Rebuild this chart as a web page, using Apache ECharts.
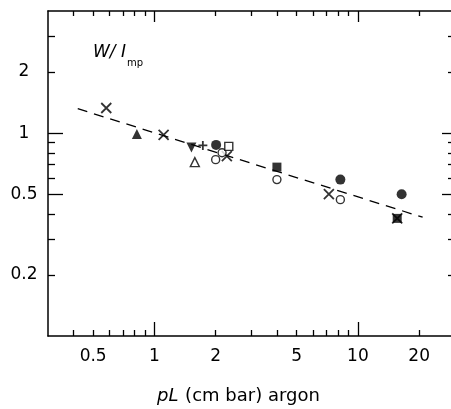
<!DOCTYPE html>
<html><head><meta charset="utf-8">
<script src="https://cdn.jsdelivr.net/npm/echarts@6/dist/echarts.min.js"></script>
<style>html,body{margin:0;background:#fff}#c{width:451px;height:409px}</style>
</head><body><div id="c"></div><script>
const xMinorTicks=[0.4,0.5,0.6,0.7,0.8,0.9,2,3,4,5,6,7,8,9,20];
const xMajorTicks=[1,10];
const xTickLabels=[0.5,1,2,5,10,20];
const yMinorTicks=[0.2,0.3,0.4,0.6,0.7,0.8,0.9,2,3];
const yMajorTicks=[0.5,1];
const yTickLabels=[0.2,0.5,1,2];
const fitLine=[[0.42,1.32],[20.8,0.385]];
const crossPts=[[0.58,1.33],[1.11,0.98],[2.27,0.77],[7.2,0.50],[15.6,0.38]];
const triUpFilled=[[0.82,0.99]];
const triUpOpen=[[1.58,0.72]];
const triDownFilled=[[1.52,0.85]];
const plusPts=[[1.73,0.87]];
const dotFilled=[[2.01,0.875],[8.2,0.59],[16.4,0.50]];
const dotOpen=[[2.0,0.74],[2.15,0.80],[4.0,0.59],[8.2,0.47]];
const squareOpen=[[2.32,0.86]];
const squareFilled=[[4.0,0.68],[15.6,0.38]];

const FONT='DejaVu Sans';
const X_SYM='path://M0,0L10,10M10,0L0,10';
const P_SYM='path://M5,0L5,10M0,5L10,5';

function axis(kind,pos,ticks,len,line,labels,min,max){
  const a={type:'log',logBase:10,min:min,max:max,position:pos,
    axisLine:{show:line,lineStyle:{color:'#000',width:1.5}},
    axisTick:{show:true,inside:true,length:len,customValues:ticks,lineStyle:{color:'#000',width:1.3}},
    splitLine:{show:false},minorTick:{show:false},
    axisLabel:{show:!!labels}};
  if(labels){
    a.axisLabel={show:true,customValues:labels,color:'#000',fontFamily:FONT,fontSize:17,
      margin:kind==='x'?12:24,align:'center',formatter:v=>String(+v.toPrecision(3))};
  }
  return a;
}
const chart=echarts.init(document.getElementById('c'),null,{renderer:'canvas'});
const base={type:'scatter',xAxisIndex:0,yAxisIndex:0,symbolSize:9,z:5};
chart.setOption({
  animation:false,
  grid:{left:48,top:11,width:407,height:325,containLabel:false,outerBoundsMode:'none'},
  xAxis:[
    axis('x','bottom',xMinorTicks,6,true,xTickLabels,0.3,30),
    axis('x','bottom',xMajorTicks,14,false,null,0.3,30),
    axis('x','top',xMinorTicks,5,true,null,0.3,30),
    axis('x','top',xMajorTicks,11,false,null,0.3,30)
  ],
  yAxis:[
    axis('y','left',yMinorTicks,7,true,yTickLabels,0.1,4),
    axis('y','left',yMajorTicks,15,false,null,0.1,4),
    axis('y','right',yMinorTicks,7,false,null,0.1,4),
    axis('y','right',yMajorTicks,13,false,null,0.1,4)
  ],
  graphic:[
    {type:'text',left:93,top:44,style:{text:'W/ I',fontFamily:FONT,fontSize:17,fontStyle:'italic',fill:'#000'}},
    {type:'text',left:127,top:58,style:{text:'mp',fontFamily:FONT,fontSize:10,fill:'#000'}},
    {type:'text',left:157,top:387,style:{rich:{i:{fontFamily:FONT,fontSize:18,fontStyle:'italic',fill:'#000'},n:{fontFamily:FONT,fontSize:18,fill:'#000'}},text:'{i|pL}  {n|(cm bar) argon}'}}
  ],
  series:[
    {type:'line',data:fitLine,symbol:'none',lineStyle:{color:'#000',width:1.3,type:[10,7]},z:2},
    Object.assign({},base,{data:crossPts,symbol:X_SYM,symbolSize:10,itemStyle:{color:'none',borderColor:'#000',borderWidth:1.8}}),
    Object.assign({},base,{data:triUpFilled,symbol:'triangle',symbolSize:10,itemStyle:{color:'#000'}}),
    Object.assign({},base,{data:triUpOpen,symbol:'triangle',symbolSize:9,itemStyle:{color:'#fff',borderColor:'#000',borderWidth:1.4}}),
    Object.assign({},base,{data:triDownFilled,symbol:'triangle',symbolRotate:180,symbolSize:10,itemStyle:{color:'#000'}}),
    Object.assign({},base,{data:plusPts,symbol:P_SYM,symbolSize:9,itemStyle:{color:'none',borderColor:'#000',borderWidth:1.8}}),
    Object.assign({},base,{data:dotOpen,symbol:'circle',symbolSize:8,itemStyle:{color:'#fff',borderColor:'#000',borderWidth:1.4}}),
    Object.assign({},base,{data:squareOpen,symbol:'rect',symbolSize:8,itemStyle:{color:'#fff',borderColor:'#000',borderWidth:1.4}}),
    Object.assign({},base,{data:dotFilled,symbol:'circle',symbolSize:10,itemStyle:{color:'#000'}}),
    Object.assign({},base,{data:squareFilled,symbol:'rect',symbolSize:9,itemStyle:{color:'#000'}})
  ]
});
</script></body></html>
